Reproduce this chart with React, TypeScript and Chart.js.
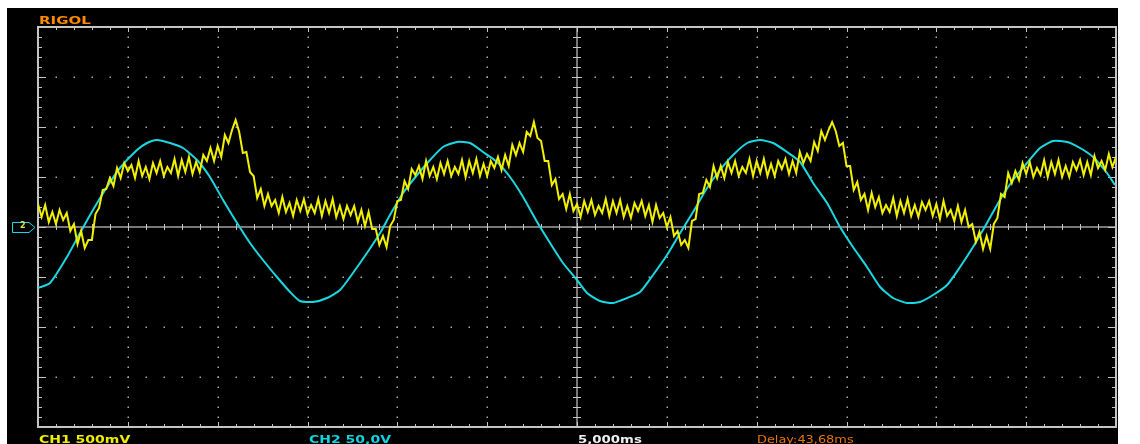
import React, { useEffect, useRef } from "react";
import { Chart, registerables } from "chart.js";

Chart.register(...registerables);

// ---- Scope settings ----
const H_DIVS = 12;
const V_DIVS = 8;
const TIME_PER_DIV_MS = 5;
const CH1_VOLTS_PER_DIV = 0.5;
const CH2_VOLTS_PER_DIV = 50;

// ---- Labels ----
const BRAND_LABEL = "RIGOL";
const CH1_LABEL = "CH1 500mV";
const CH2_LABEL = "CH2 50,0V";
const TIMEBASE_LABEL = "5,000ms";
const DELAY_LABEL = "Delay:43,68ms";
const CH2_MARKER_LABEL = "2";

// ---- CH1 (yellow), sampled every 0.2 ms, volts ----
const CH1_SAMPLE_MS = 0.2;
const CH1_VOLTS = [
  0.23, 0.10, 0.22, 0.05, 0.15, 0.03, 0.17, 0.07, 0.14, -0.04,
  0.03, -0.17, -0.04, -0.21, -0.13, -0.13, 0.13, 0.19, 0.37, 0.38,
  0.49, 0.41, 0.59, 0.49, 0.64, 0.56, 0.62, 0.49, 0.66, 0.51,
  0.60, 0.48, 0.64, 0.54, 0.66, 0.51, 0.60, 0.54, 0.68, 0.51,
  0.67, 0.55, 0.70, 0.53, 0.65, 0.55, 0.72, 0.66, 0.79, 0.66,
  0.81, 0.70, 0.92, 0.84, 0.97, 1.07, 0.95, 0.74, 0.75, 0.55,
  0.51, 0.29, 0.38, 0.21, 0.33, 0.21, 0.27, 0.14, 0.30, 0.15,
  0.24, 0.11, 0.27, 0.16, 0.28, 0.13, 0.22, 0.14, 0.28, 0.11,
  0.26, 0.14, 0.28, 0.10, 0.21, 0.08, 0.21, 0.12, 0.21, 0.05,
  0.17, 0.01, 0.15, -0.02, -0.02, -0.18, -0.09, -0.20, 0.01, 0.07,
  0.26, 0.27, 0.46, 0.38, 0.58, 0.52, 0.61, 0.48, 0.66, 0.51,
  0.60, 0.48, 0.64, 0.53, 0.66, 0.51, 0.60, 0.53, 0.67, 0.50,
  0.66, 0.54, 0.68, 0.51, 0.63, 0.51, 0.66, 0.59, 0.70, 0.57,
  0.72, 0.61, 0.82, 0.72, 0.84, 0.75, 0.95, 0.91, 1.05, 0.89,
  0.86, 0.66, 0.66, 0.42, 0.48, 0.28, 0.33, 0.18, 0.33, 0.16,
  0.23, 0.10, 0.26, 0.15, 0.27, 0.12, 0.21, 0.14, 0.28, 0.11,
  0.26, 0.14, 0.27, 0.10, 0.21, 0.09, 0.24, 0.16, 0.26, 0.11,
  0.22, 0.05, 0.22, 0.09, 0.14, 0.00, 0.10, -0.09, -0.04, -0.18,
  -0.13, -0.21, 0.06, 0.08, 0.33, 0.34, 0.47, 0.40, 0.61, 0.49,
  0.61, 0.49, 0.65, 0.54, 0.66, 0.51, 0.60, 0.54, 0.68, 0.51,
  0.66, 0.54, 0.68, 0.51, 0.63, 0.51, 0.66, 0.58, 0.68, 0.53,
  0.66, 0.54, 0.75, 0.64, 0.73, 0.66, 0.85, 0.76, 0.96, 0.87,
  0.97, 1.05, 0.96, 0.81, 0.84, 0.61, 0.61, 0.37, 0.45, 0.27,
  0.33, 0.17, 0.34, 0.20, 0.30, 0.14, 0.22, 0.15, 0.29, 0.11,
  0.26, 0.14, 0.28, 0.11, 0.22, 0.10, 0.25, 0.17, 0.26, 0.11,
  0.23, 0.08, 0.26, 0.11, 0.17, 0.06, 0.21, 0.05, 0.17, 0.00,
  0.03, -0.15, -0.05, -0.22, -0.09, -0.22, 0.03, 0.09, 0.33, 0.30,
  0.54, 0.44, 0.56, 0.47, 0.64, 0.53, 0.65, 0.50, 0.59, 0.52,
  0.67, 0.50, 0.65, 0.53, 0.67, 0.50, 0.61, 0.50, 0.65, 0.57,
  0.67, 0.52, 0.65, 0.52, 0.71, 0.59, 0.66, 0.57, 0.73, 0.60,
  0.70,
];

// ---- CH2 (cyan), time in ms, volts ----
const CH2_TIME_MS = [
  0.00, 0.67, 1.61, 2.34, 3.06, 3.84, 4.56, 5.51, 6.07, 6.62,
  7.35, 8.07, 8.85, 9.57, 10.30, 11.08, 11.80, 12.52, 13.30, 14.03,
  14.58, 15.31, 16.09, 16.81, 17.53, 18.31, 19.04, 19.59, 20.32, 21.10,
  21.82, 22.54, 23.32, 24.05, 24.77, 25.55, 26.27, 27.00, 27.78, 28.50,
  29.22, 30.00, 30.56, 31.28, 32.01, 32.79, 33.51, 34.23, 35.01, 35.74,
  36.46, 37.24, 37.96, 38.69, 39.47, 40.19, 40.91, 41.69, 42.42, 43.14,
  43.92, 44.64, 45.36, 46.14, 46.87, 47.59, 48.37, 49.09, 49.82, 50.60,
  51.32, 52.04, 52.82, 53.54, 54.27, 55.05, 55.77, 56.50, 57.28, 58.00,
  58.72, 59.50, 59.94,
];
const CH2_VOLTS = [
  -61, -56, -30, -6, 17, 40, 59, 77, 84, 87,
  84, 79, 67, 50, 27, 4, -16, -33, -50, -65,
  -74, -75, -71, -63, -46, -26, -6, 12, 34, 52,
  67, 80, 85, 84, 75, 65, 50, 30, 5, -16,
  -36, -53, -66, -74, -76, -71, -65, -48, -28, -6,
  15, 39, 57, 72, 84, 87, 84, 75, 65, 44,
  24, 0, -20, -40, -60, -71, -76, -75, -68, -58,
  -40, -20, 4, 27, 47, 64, 79, 86, 85, 79,
  70, 54, 42,
];

const GRID_DOT = "#a8a8a8";
const FRAME = "#c4c4c4";
const YELLOW = "#f0f000";
const CYAN = "#1ad8e2";

const scopeGrid = {
  id: "scopeGrid",
  beforeDatasetsDraw(chart: any) {
    const { ctx, chartArea: a, scales } = chart;
    const xs = scales.x;
    const ys = scales.y;
    const y2 = scales.y2;
    const xAt = (div: number) => xs.getPixelForValue(div * TIME_PER_DIV_MS);
    const yAt = (div: number) => ys.getPixelForValue((div - V_DIVS / 2) * CH1_VOLTS_PER_DIV);
    ctx.save();
    // dotted grid
    ctx.fillStyle = GRID_DOT;
    for (let k = 1; k < H_DIVS; k++) {
      if (k === H_DIVS / 2) continue;
      const px = Math.round(xAt(k));
      for (let j = 1; j < V_DIVS * 5; j++) {
        const py = Math.round(yAt(j / 5));
        ctx.fillRect(px - 0.5, py - 0.5, 1.5, 1.5);
      }
    }
    for (let k = 1; k < V_DIVS; k++) {
      if (k === V_DIVS / 2) continue;
      const py = Math.round(yAt(k));
      for (let j = 1; j < H_DIVS * 5; j++) {
        const px = Math.round(xAt(j / 5));
        ctx.fillRect(px - 0.5, py - 0.5, 1.5, 1.5);
      }
    }
    // center cross
    const cx = xAt(H_DIVS / 2);
    const cy = yAt(V_DIVS / 2);
    ctx.strokeStyle = "#a0a0a0";
    ctx.lineWidth = 1.5;
    ctx.beginPath();
    ctx.moveTo(a.left, cy);
    ctx.lineTo(a.right, cy);
    ctx.moveTo(cx, a.top);
    ctx.lineTo(cx, a.bottom);
    ctx.stroke();
    ctx.lineWidth = 1;
    ctx.beginPath();
    for (let j = 1; j < H_DIVS * 5; j++) {
      const px = Math.round(xAt(j / 5)) + 0.5;
      const len = j % 5 === 0 ? 4 : 3;
      ctx.moveTo(px, cy - len);
      ctx.lineTo(px, cy + len);
      const fl = j % 5 === 0 ? 5 : 3;
      ctx.moveTo(px, a.top);
      ctx.lineTo(px, a.top + fl);
      ctx.moveTo(px, a.bottom);
      ctx.lineTo(px, a.bottom - fl);
    }
    for (let j = 1; j < V_DIVS * 5; j++) {
      const py = Math.round(yAt(j / 5)) + 0.5;
      const len = j % 5 === 0 ? 5 : 4;
      ctx.moveTo(cx - len, py);
      ctx.lineTo(cx + len, py);
      const fl = j % 5 === 0 ? 8 : 4;
      ctx.moveTo(a.left, py);
      ctx.lineTo(a.left + fl, py);
      ctx.moveTo(a.right, py);
      ctx.lineTo(a.right - fl, py);
    }
    ctx.strokeStyle = FRAME;
    ctx.stroke();
    // frame
    ctx.lineWidth = 2;
    ctx.strokeStyle = FRAME;
    ctx.strokeRect(a.left, a.top, a.right - a.left, a.bottom - a.top);
    // CH2 ground marker
    const gy = Math.round(y2.getPixelForValue(0)) + 0.5;
    const mr = a.left - 3;
    ctx.lineWidth = 1;
    ctx.strokeStyle = CYAN;
    ctx.beginPath();
    ctx.moveTo(12.5, gy - 5);
    ctx.lineTo(mr - 6, gy - 5);
    ctx.lineTo(mr, gy);
    ctx.lineTo(mr - 6, gy + 5);
    ctx.lineTo(12.5, gy + 5);
    ctx.closePath();
    ctx.stroke();
    ctx.restore();
  },
};

const labelBase: React.CSSProperties = {
  position: "absolute",
  fontFamily: "'DejaVu Sans', sans-serif",
  fontWeight: "bold",
  fontSize: "10px",
  lineHeight: "10px",
  whiteSpace: "nowrap",
  transformOrigin: "0 0",
};

export default function App() {
  const canvasRef = useRef<HTMLCanvasElement | null>(null);

  useEffect(() => {
    const canvas = canvasRef.current;
    if (!canvas) return;
    const ch1 = CH1_VOLTS.map((v, i) => ({ x: i * CH1_SAMPLE_MS, y: v }));
    const ch2 = CH2_TIME_MS.map((t, i) => ({ x: t, y: CH2_VOLTS[i] }));
    const chart = new Chart(canvas, {
      type: "line",
      data: {
        datasets: [
          {
            label: "CH1",
            data: ch1,
            yAxisID: "y",
            borderColor: YELLOW,
            borderWidth: 2,
            borderJoinStyle: "miter",
            pointRadius: 0,
            tension: 0,
            fill: false,
          },
          {
            label: "CH2",
            data: ch2,
            yAxisID: "y2",
            borderColor: CYAN,
            borderWidth: 2,
            pointRadius: 0,
            tension: 0.2,
            fill: false,
          },
        ],
      },
      options: {
        animation: false,
        responsive: false,
        maintainAspectRatio: false,
        devicePixelRatio: 1,
        events: [],
        layout: { padding: { left: 38, right: 24, top: 27, bottom: 17 } },
        plugins: { legend: { display: false }, tooltip: { enabled: false } },
        scales: {
          x: { type: "linear", min: 0, max: H_DIVS * TIME_PER_DIV_MS, display: false },
          y: {
            type: "linear",
            min: (-V_DIVS / 2) * CH1_VOLTS_PER_DIV,
            max: (V_DIVS / 2) * CH1_VOLTS_PER_DIV,
            display: false,
          },
          y2: {
            type: "linear",
            min: (-V_DIVS / 2) * CH2_VOLTS_PER_DIV,
            max: (V_DIVS / 2) * CH2_VOLTS_PER_DIV,
            display: false,
          },
        },
      },
      plugins: [scopeGrid],
    } as any);
    return () => chart.destroy();
  }, []);

  return (
    <div
      style={{
        position: "fixed",
        left: 0,
        top: 0,
        width: 1140,
        height: 444,
        background: "#ffffff",
        overflow: "hidden",
      }}
    >
      <div
        style={{ position: "absolute", left: 7, top: 8, width: 1111, height: 436, background: "#000000" }}
      />
      <canvas
        ref={canvasRef}
        width={1140}
        height={444}
        style={{ position: "absolute", left: 0, top: 0, width: 1140, height: 444 }}
      />
      <div style={{ ...labelBase, left: 39, top: 16, color: "#ff8a00", transform: "scaleX(1.5)" }}>
        {BRAND_LABEL}
      </div>
      <div style={{ ...labelBase, left: 39, top: 435, color: "#eeee00", transform: "scaleX(1.4)" }}>
        {CH1_LABEL}
      </div>
      <div style={{ ...labelBase, left: 309, top: 435, color: "#10d4e0", transform: "scaleX(1.4)" }}>
        {CH2_LABEL}
      </div>
      <div style={{ ...labelBase, left: 578, top: 435, color: "#f0f0f0", transform: "scaleX(1.33)" }}>
        {TIMEBASE_LABEL}
      </div>
      <div
        style={{
          ...labelBase,
          fontWeight: "normal",
          left: 757,
          top: 435,
          color: "#e87400",
          transform: "scaleX(1.29)",
        }}
      >
        {DELAY_LABEL}
      </div>
      <div
        style={{
          ...labelBase,
          fontSize: "8px",
          lineHeight: "8px",
          left: 20,
          top: 222,
          color: "#d8e840",
        }}
      >
        {CH2_MARKER_LABEL}
      </div>
    </div>
  );
}
